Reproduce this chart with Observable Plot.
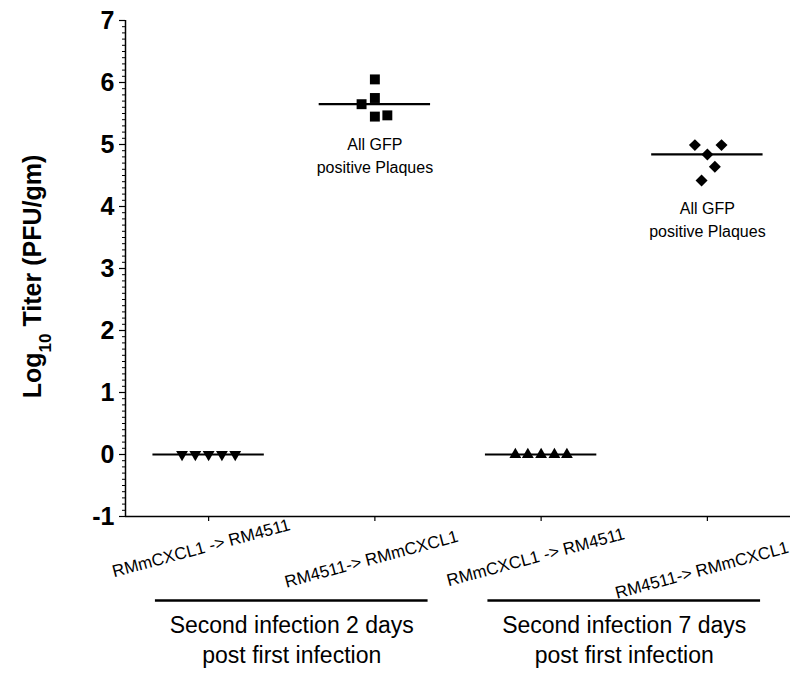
<!DOCTYPE html>
<html><head><meta charset="utf-8">
<script src="https://cdn.jsdelivr.net/npm/d3@7"></script>
<script src="https://cdn.jsdelivr.net/npm/@observablehq/plot@0.6"></script>
<style>
body{margin:0;background:#fff}
svg{font-family:"Liberation Sans",Arial,sans-serif}
</style>
</head><body><div id="chart"></div>
<script>
// ---------- data ----------
const categories = ["RMmCXCL1 -> RM4511", "RM4511-> RMmCXCL1", "RMmCXCL1 -> RM4511", "RM4511-> RMmCXCL1"];
const groupLabels = ["Second infection 2 days\npost first infection", "Second infection 7 days\npost first infection"];
const annotationText = "All GFP\npositive Plaques";
const annotatedGroups = [1, 3];
const yTicks = [-1, 0, 1, 2, 3, 4, 5, 6, 7];
const yLabel = "Log10 Titer (PFU/gm)";

const g1Values = [0, 0, 0, 0, 0];
const g1Jitter = [-0.16, -0.08, 0, 0.08, 0.16];
const g2Values = [6.05, 5.75, 5.65, 5.45, 5.47];
const g2Jitter = [0.0, 0.0, -0.08, 0.0, 0.075];
const g3Values = [0, 0, 0, 0, 0];
const g3Jitter = [-0.155, -0.08, 0, 0.08, 0.155];
const g4Values = [4.99, 4.99, 4.84, 4.64, 4.42];
const g4Jitter = [-0.075, 0.085, 0, 0.045, -0.035];

// ---------- derived ----------
const groupValues = [g1Values, g2Values, g3Values, g4Values];
const groupJitter = [g1Jitter, g2Jitter, g3Jitter, g4Jitter];
const points = groupValues.map((vals, i) => vals.map((v, j) => ({g: i, x: i + 1 + groupJitter[i][j], y: v}))).flat();
const medians = groupValues.map((vals, i) => ({g: i, c: i + 1, y: d3.median(vals), min: d3.min(vals)}));
const cats = categories.map((c, i) => ({c: i + 1, label: c, i}));
const groups = groupLabels.map((t, i) => ({c: 2 * i + 1.5, label: t}));
const minorTicks = d3.range(-1, 7, 0.1).map(v => +v.toFixed(2)).filter(v => !yTicks.includes(v));

const triangleDown = {
  draw(context, size) {
    const y = -Math.sqrt(size / (Math.sqrt(3) * 3));
    context.moveTo(0, -y * 2);
    context.lineTo(-Math.sqrt(3) * y, y);
    context.lineTo(Math.sqrt(3) * y, y);
    context.closePath();
  }
};
const symbols = [triangleDown, "square", "triangle", "diamond2"];
const sizes = [4.4, 5.6, 4.4, 5.4];
// staggered placement of the rotated category labels
const labelDy = [37, 48, 46, 59];
const labelDx = [-6, -2, -4, -4];

const xDomain = [0.5, categories.length + 0.5];
const yDomain = [d3.min(yTicks), d3.max(yTicks)];

const chart = Plot.plot({
  width: 794,
  height: 679,
  marginLeft: 125,
  marginRight: 4,
  marginTop: 20,
  marginBottom: 163,
  style: {fontFamily: '"Liberation Sans", Arial, sans-serif', color: "#000", background: "#fff"},
  x: {domain: xDomain, axis: null},
  y: {domain: yDomain, axis: null},
  marks: [
    // y minor ticks
    Plot.axisY(minorTicks, {tickSize: 3, tickFormat: () => "", strokeWidth: 1}),
    // y major ticks
    Plot.axisY(yTicks, {tickSize: 6, tickPadding: 5, fontSize: 25, fontWeight: "bold", tickFormat: d => String(d), strokeWidth: 1.2}),
    // x ticks
    Plot.axisX(cats.map(d => d.c), {tickSize: 5, tickFormat: () => "", strokeWidth: 1.2}),
    // axis lines
    Plot.ruleX([xDomain[0]], {y1: yDomain[0], y2: yDomain[1], strokeWidth: 1.5}),
    Plot.ruleY([yDomain[0]], {x1: xDomain[0], x2: xDomain[1], strokeWidth: 1.5}),
    // category labels (staggered)
    ...cats.map(d => Plot.text([d], {x: "c", text: "label", frameAnchor: "bottom", rotate: -15, dy: labelDy[d.i], dx: labelDx[d.i], fontSize: 17})),
    // group brackets
    Plot.ruleY(groups, {y: () => yDomain[0], x1: d => d.c - 0.82, x2: d => d.c + 0.82, dy: 84, strokeWidth: 2.6}),
    Plot.text(groups, {x: "c", text: "label", frameAnchor: "bottom", dy: 95, lineAnchor: "top", fontSize: 23, lineHeight: 1.3}),
    // medians
    Plot.ruleY(medians, {y: "y", x1: d => d.c - 0.335, x2: d => d.c + 0.335, strokeWidth: 2.2}),
    // points
    ...symbols.map((s, i) => Plot.dot(points.filter(d => d.g === i), {x: "x", y: "y", symbol: s, r: sizes[i], fill: "black", stroke: null})),
    // annotations
    Plot.text(medians.filter(d => annotatedGroups.includes(d.g)), {x: "c", y: "min", text: () => annotationText, dy: 17, lineAnchor: "top", fontSize: 16, lineHeight: 1.45}),
    // y label
    Plot.text([yLabel], {text: d => d, frameAnchor: "left", textAnchor: "middle", dx: -93, dy: 8, rotate: -90, fontSize: 25, fontWeight: "bold"})
  ]
});

// subscript for the y label
d3.select(chart).selectAll("text").filter(function() { return this.textContent === yLabel; }).each(function() {
  const t = d3.select(this);
  t.text(null);
  t.append("tspan").text("Log");
  t.append("tspan").attr("baseline-shift", "sub").attr("font-size", "17").text("10");
  t.append("tspan").text(" Titer (PFU/gm)");
});

document.getElementById("chart").appendChild(chart);
</script>
</body></html>
